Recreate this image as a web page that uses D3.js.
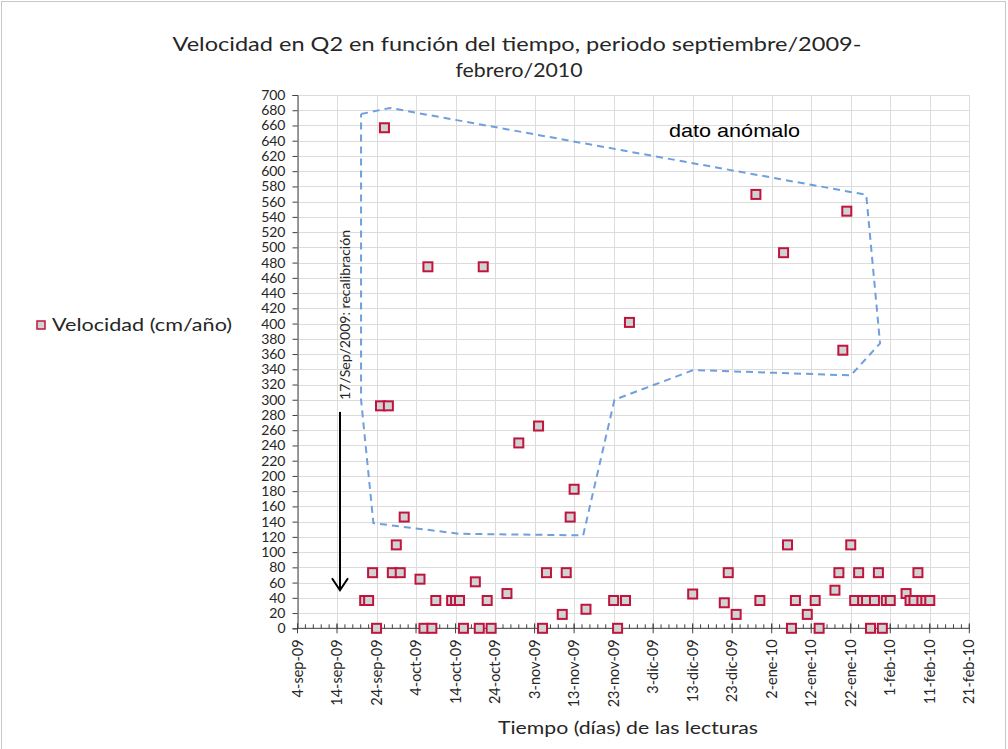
<!DOCTYPE html>
<html>
<head>
<meta charset="utf-8">
<script src="https://cdn.jsdelivr.net/npm/d3@7"></script>
<style>
  body { margin: 0; background: #fff; }
  text { font-family: Lato, "Open Sans", sans-serif; fill: #262626; }
</style>
</head>
<body>
<svg id="chart" width="1008" height="749"></svg>
<script>
// Reading dates and velocity values (cm/año) at station Q2
const readingDates = [
  "2009-09-21", "2009-09-22", "2009-09-23", "2009-09-24", "2009-09-25", "2009-09-26",
  "2009-09-27", "2009-09-28", "2009-09-29", "2009-09-30", "2009-10-01", "2009-10-05",
  "2009-10-06", "2009-10-07", "2009-10-08", "2009-10-09", "2009-10-13", "2009-10-14",
  "2009-10-15", "2009-10-16", "2009-10-19", "2009-10-20", "2009-10-21", "2009-10-22",
  "2009-10-23", "2009-10-27", "2009-10-30", "2009-11-04", "2009-11-05", "2009-11-06",
  "2009-11-10", "2009-11-11", "2009-11-12", "2009-11-13", "2009-11-16", "2009-11-23",
  "2009-11-24", "2009-11-26", "2009-11-27", "2009-12-13", "2009-12-21", "2009-12-22",
  "2009-12-24", "2009-12-29", "2009-12-30", "2010-01-05", "2010-01-06", "2010-01-07",
  "2010-01-08", "2010-01-11", "2010-01-13", "2010-01-14", "2010-01-18", "2010-01-19",
  "2010-01-20", "2010-01-21", "2010-01-22", "2010-01-23", "2010-01-24", "2010-01-25",
  "2010-01-26", "2010-01-27", "2010-01-28", "2010-01-29", "2010-01-30", "2010-01-31",
  "2010-02-01", "2010-02-05", "2010-02-06", "2010-02-07", "2010-02-08", "2010-02-09",
  "2010-02-10", "2010-02-11"
];
const velocity = [
  36.5, 36.5, 73, 0, 292, 657,
  292, 73, 109.5, 73, 146, 64.5,
  0, 474.5, 0, 36.5, 36.5, 36.5,
  36.5, 0, 61, 0, 474.5, 36.5,
  0, 45.6, 243.3, 265.5, 0, 73,
  18.25, 73, 146, 182.5, 25, 36.5,
  0, 36.5, 401.5, 45, 33.5, 73,
  18.25, 569.5, 36.5, 493, 109.5, 0,
  36.5, 18.25, 36.5, 0, 50, 73,
  365, 547.5, 109.5, 36.5, 73, 36.5,
  36.5, 0, 36.5, 73, 0, 36.5,
  36.5, 45.6, 36.5, 36.5, 73, 36.5,
  36.5, 36.5
];

// Axis extent and labelled ticks
const axisStart = "2009-09-04";
const axisEnd = "2010-02-21";
const xTickDates = [
  "2009-09-04", "2009-09-14", "2009-09-24", "2009-10-04", "2009-10-14", "2009-10-24",
  "2009-11-03", "2009-11-13", "2009-11-23", "2009-12-03", "2009-12-13", "2009-12-23",
  "2010-01-02", "2010-01-12", "2010-01-22", "2010-02-01", "2010-02-11", "2010-02-21"
];
const xTickLabels = [
  "4-sep-09", "14-sep-09", "24-sep-09", "4-oct-09", "14-oct-09", "24-oct-09",
  "3-nov-09", "13-nov-09", "23-nov-09", "3-dic-09", "13-dic-09", "23-dic-09",
  "2-ene-10", "12-ene-10", "22-ene-10", "1-feb-10", "11-feb-10", "21-feb-10"
];
const yTickValues = d3.range(0, 701, 20);

// Outline enclosing the anomalous readings (closed back to its first vertex)
const anomalyDates = [
  "2009-09-20 02", "2009-09-27 10", "2010-01-25 22", "2010-01-29 10", "2010-01-22 00",
  "2009-12-13 05", "2009-11-23 05", "2009-11-15 07", "2009-10-15 02", "2009-09-23 05",
  "2009-09-20 02", "2009-09-20 02"
];
const anomalyValues = [675, 683, 569, 374, 332, 339, 300, 122, 124, 138, 300, 675];

// Recalibration marker
const recalDate = "2009-09-14 18";
const recalTop = 284;
const recalBottom = 50;

const parseDay = d3.timeParse("%Y-%m-%d");
const parseHour = d3.timeParse("%Y-%m-%d %H");

const svg = d3.select("#chart");

// chart frame
svg.append("rect")
  .attr("x", 1.5).attr("y", 1.5).attr("width", 1004).attr("height", 760)
  .attr("fill", "#fff").attr("stroke", "#c8c8c8");

const x = d3.scaleTime()
  .domain([parseDay(axisStart), parseDay(axisEnd)])
  .range([297.5, 969.3]);
const y = d3.scaleLinear().domain([0, 700]).range([628.3, 95]);

const plot = svg.append("g");

// gridlines
plot.append("g").selectAll("line").data(yTickValues).join("line")
  .attr("x1", x.range()[0]).attr("x2", x.range()[1])
  .attr("y1", d => Math.round(y(d)) + 0.5).attr("y2", d => Math.round(y(d)) + 0.5)
  .attr("stroke", "#dcdcdc").attr("stroke-width", 1);
plot.append("g").selectAll("line").data(xTickDates.map(parseDay)).join("line")
  .attr("x1", d => Math.round(x(d)) + 0.5).attr("x2", d => Math.round(x(d)) + 0.5)
  .attr("y1", y(0)).attr("y2", y(700))
  .attr("stroke", "#dcdcdc").attr("stroke-width", 1);

// anomaly outline
const outline = d3.line()
  .x((d, i) => x(parseHour(anomalyDates[i])))
  .y((d, i) => y(anomalyValues[i]));
plot.append("path")
  .attr("d", outline(anomalyValues))
  .attr("fill", "none")
  .attr("stroke", "#6f9fdc")
  .attr("stroke-width", 2)
  .attr("stroke-dasharray", "7,5");

// Text helper: fixed size, stretched to the given run length
function label(sel, txt, size, len) {
  const t = sel.style("font-size", size + "px").text(txt);
  if (len) t.attr("textLength", len).attr("lengthAdjust", "spacingAndGlyphs");
  return t;
}

label(svg.append("text").attr("x", 669).attr("y", 137)
  .style("font-family", "'Liberation Sans', Arial, sans-serif").style("fill", "#000"),
  "dato anómalo", 19, 131);

// y axis
const yAxis = d3.axisLeft(y).tickValues(yTickValues).tickSize(5).tickPadding(7);
const gy = svg.append("g").attr("transform", `translate(${x.range()[0]},0)`).call(yAxis);
gy.select(".domain").attr("stroke", "#404040");
gy.selectAll(".tick line").attr("stroke", "#404040");
gy.selectAll(".tick text").style("font-size", "14px").style("font-family", "Lato, sans-serif").attr("fill", "#262626");

// x axis
const y0 = y(0);
const gx = svg.append("g");
gx.append("line")
  .attr("x1", x.range()[0]).attr("x2", x.range()[1])
  .attr("y1", y0).attr("y2", y0)
  .attr("stroke", "#404040");
const start = parseDay(axisStart);
const minorTicks = d3.range(0, 171, 2).map(n => d3.timeDay.offset(start, n));
gx.selectAll("line.minor").data(minorTicks).join("line")
  .attr("class", "minor")
  .attr("x1", d => x(d)).attr("x2", d => x(d))
  .attr("y1", y0).attr("y2", y0 - 4)
  .attr("stroke", "#404040");
gx.selectAll("line.major").data(xTickDates.map(parseDay)).join("line")
  .attr("class", "major")
  .attr("x1", d => x(d)).attr("x2", d => x(d))
  .attr("y1", y0 - 5).attr("y2", y0 + 5)
  .attr("stroke", "#404040");
gx.selectAll("text").data(xTickDates).join("text")
  .attr("transform", d => `translate(${x(parseDay(d)) + 5},${y0 + 11}) rotate(-90)`)
  .attr("text-anchor", "end")
  .style("font-size", "14.5px")
  .text((d, i) => xTickLabels[i]);

// readings
const points = readingDates.map((d, i) => ({ date: parseDay(d), v: velocity[i] }));
const s = 9;
svg.append("g").selectAll("rect").data(points).join("rect")
  .attr("x", d => x(d.date) - s / 2)
  .attr("y", d => y(d.v) - s / 2)
  .attr("width", s).attr("height", s)
  .attr("fill", "#cfd3d3")
  .attr("stroke", "#c0143c")
  .attr("stroke-width", 2);

// recalibration arrow
const rx = x(parseHour(recalDate));
svg.append("line")
  .attr("x1", rx).attr("x2", rx)
  .attr("y1", y(recalTop)).attr("y2", y(recalBottom))
  .attr("stroke", "#000").attr("stroke-width", 2);
svg.append("path")
  .attr("d", d3.line()([[rx - 8, y(recalBottom) - 12], [rx, y(recalBottom)], [rx + 8, y(recalBottom) - 12]]))
  .attr("fill", "none").attr("stroke", "#000").attr("stroke-width", 2);
label(svg.append("text")
  .attr("transform", `translate(${rx + 10},${y(recalTop) - 12}) rotate(-90)`),
  "17/Sep/2009: recalibración", 12.5, 170);

// title
label(svg.append("text").attr("x", 517).attr("y", 51).attr("text-anchor", "middle"),
  "Velocidad en Q2 en función del tiempo, periodo septiembre/2009-", 20, 689);
label(svg.append("text").attr("x", 519).attr("y", 77).attr("text-anchor", "middle"),
  "febrero/2010", 20, 127);

// x axis title
label(svg.append("text").attr("x", 628).attr("y", 734).attr("text-anchor", "middle"),
  "Tiempo (días) de las lecturas", 17, 260);

// legend
svg.append("rect")
  .attr("x", 37).attr("y", 321).attr("width", 8).attr("height", 8)
  .attr("fill", "#cfd3d3").attr("stroke", "#c0143c").attr("stroke-width", 1.5);
label(svg.append("text").attr("x", 52).attr("y", 331),
  "Velocidad (cm/año)", 17, 180);
</script>
</body>
</html>
